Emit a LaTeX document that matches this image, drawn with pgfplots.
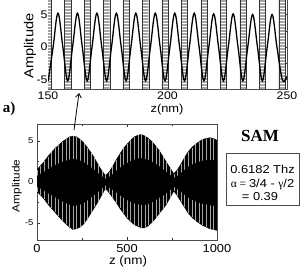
\documentclass[border=0pt]{standalone}
\usepackage{fontspec}
\setmainfont{Liberation Sans}[FakeStretch=1.12]
\newfontfamily\serifb{Liberation Serif}
\usepackage{pgfplots}
\usepackage{pgfplotstable}
\pgfplotsset{compat=1.18}
\usetikzlibrary{patterns,arrows.meta}

\pgfplotstableread{
z a
150.10 -5.2
152.14 0
154.17 5.2
156.21 0
158.24 -5.2
160.28 0
162.32 5.2
164.35 0
166.39 -5.2
168.42 0
170.46 5.2
172.50 0
174.53 -5.2
176.57 0
178.60 5.2
180.64 0
182.68 -5.2
184.71 0
186.75 5.2
188.78 0
190.82 -5.2
192.86 0
194.89 5.2
196.93 0
198.96 -5.2
201.00 0
203.04 5.2
205.07 0
207.11 -5.2
209.14 0
211.18 5.2
213.22 0
215.25 -5.2
217.29 0
219.32 5.1
221.36 0
223.40 -5.2
225.43 0
227.47 5.1
229.50 0
231.54 -5.2
233.58 0
235.61 5.0
237.65 0
239.68 -5.2
241.72 0
243.76 5.0
245.79 0
248.10 -5.1
250.00 -4.5
}\toptab

\pgfplotstableread{
x y
148.80 -8
148.80 9
151.40 9
151.40 -8
156.94 -8
156.94 9
159.54 9
159.54 -8
165.09 -8
165.09 9
167.69 9
167.69 -8
173.23 -8
173.23 9
175.83 9
175.83 -8
181.38 -8
181.38 9
183.98 9
183.98 -8
189.52 -8
189.52 9
192.12 9
192.12 -8
197.66 -8
197.66 9
200.26 9
200.26 -8
205.81 -8
205.81 9
208.41 9
208.41 -8
213.95 -8
213.95 9
216.55 9
216.55 -8
222.10 -8
222.10 9
224.70 9
224.70 -8
230.24 -8
230.24 9
232.84 9
232.84 -8
238.38 -8
238.38 9
240.98 9
240.98 -8
246.53 -8
246.53 9
249.13 9
249.13 -8
}\bandtab

% envelope of the full signal: upper edge left to right, lower edge right to left
\pgfplotstableread{
z y
0 1.5
20 2.0
40 2.5
60 3.1
80 3.6
100 4.1
120 4.5
140 4.9
160 5.2
180 5.5
200 5.6
220 5.5
240 5.2
260 4.8
280 4.2
300 3.6
320 2.9
340 2.1
360 1.4
380 0.8
400 1.2
420 1.9
440 2.7
460 3.4
480 4.1
500 4.6
520 5.1
540 5.5
560 5.7
580 5.8
600 5.6
620 5.3
640 4.9
660 4.4
680 3.8
700 3.1
720 2.4
740 1.7
760 1.0
780 1.5
800 2.2
820 3.0
840 3.7
860 4.2
880 4.6
900 4.9
920 5.2
940 5.3
960 5.4
980 5.3
1000 5.1
1000 -5.9
980 -5.8
960 -5.7
940 -5.5
920 -5.3
900 -5.0
880 -4.7
860 -4.3
840 -3.8
820 -3.1
800 -2.4
780 -1.7
760 -1.1
740 -1.9
720 -2.7
700 -3.3
680 -3.8
660 -4.4
640 -4.9
620 -5.3
600 -5.6
580 -5.6
560 -5.4
540 -5.2
520 -4.8
500 -4.4
480 -3.8
460 -3.2
440 -2.5
420 -1.9
400 -1.3
380 -0.8
360 -1.6
340 -2.4
320 -3.1
300 -3.8
280 -4.5
260 -5.1
240 -5.5
220 -5.7
200 -5.8
180 -5.5
160 -5.1
140 -4.7
120 -4.2
100 -3.7
80 -3.2
60 -2.7
40 -2.1
20 -1.6
0 -1.2
}\envtab

\begin{document}
\begin{tikzpicture}
\useasboundingbox (0pt,0pt) rectangle (300pt,270pt);
\clip (0pt,0pt) rectangle (300pt,270pt);

% ---------- top (zoomed) plot ----------
\begin{axis}[
  at={(48pt,181pt)}, anchor=south west, scale only axis,
  width=239pt, height=91.4pt,
  xmin=150, xmax=250, ymin=-6.46, ymax=7.6,
  xtick={150,200,250}, ytick={-5,0,5}, minor ytick={-2.5,2.5},
  axis line style={gray!60!black, line width=0.4pt},
  tick style={gray!40!black, line width=0.4pt},
  major tick length=3pt, minor tick length=2pt,
  /pgf/number format/assume math mode=true,
  /pgf/number format/1000 sep={},
  ticklabel style={font=\fontsize{11}{11}\selectfont},
  xticklabel style={yshift=1pt},
  yticklabel style={xshift=3pt},
  xlabel={z(nm)}, ylabel={Amplitude},
  xlabel style={at={(axis description cs:0.498,-0.16)}, anchor=north, inner sep=0pt, font=\fontsize{11.5}{12}\selectfont},
  ylabel style={at={(axis description cs:-0.075,0.47)}, anchor=center, font=\fontsize{13}{13}\selectfont},
]
\addplot[fill=gray!70, draw=none] table[x=x,y=y] {\bandtab};
\addplot[pattern=horizontal lines, pattern color=white, draw=none] table[x=x,y=y] {\bandtab};
\addplot[gray!40!black, line width=0.3pt] table[x=x,y=y] {\bandtab};
\addplot[black, line width=1.3pt, smooth, tension=0.6] table[x=z,y=a] {\toptab};
\end{axis}

% ---------- bottom (full) plot ----------
\begin{axis}[
  at={(37pt,29.5pt)}, anchor=south west, scale only axis,
  width=180pt, height=116.5pt,
  xmin=0, xmax=1000, ymin=-7.13, ymax=7.07,
  xtick={0,500,1000}, minor xtick={250,750},
  ytick={-5,0,5}, minor ytick={-2.5,2.5},
  axis line style={gray!60!black, line width=0.4pt},
  tick style={gray!40!black, line width=0.4pt},
  major tick length=3pt, minor tick length=2pt,
  /pgf/number format/assume math mode=true,
  /pgf/number format/1000 sep={},
  xticklabel style={font=\fontsize{11.5}{12}\selectfont},
  yticklabel style={font=\fontsize{8.5}{9}\selectfont},
  xlabel={z (nm)}, ylabel={Amplitude},
  xlabel style={at={(axis description cs:0.506,-0.176)}, anchor=center, font=\fontsize{12}{12}\selectfont},
  ylabel style={at={(axis description cs:-0.111,0.468)}, anchor=center, font=\fontsize{10.5}{11}\selectfont},
]
\addplot[fill=black, draw=black, line width=0.3pt] table[x=z,y=y] {\envtab};
\addplot[ycomb, gray!70, line width=0.4pt] table[x=z,y=y] {\envtab};
\addplot[fill=black, draw=none] table[x=z,y expr=0.5*\thisrow{y}] {\envtab};
\end{axis}

% ---------- annotations ----------
\draw[black, line width=0.8pt, -{Straight Barb[length=4pt,width=6pt]}] (74pt,140pt) -- (79pt,177pt);
\node[font=\serifb\bfseries\fontsize{15}{15}\selectfont] at (9pt,161pt) {a)};
\node[font=\serifb\bfseries\fontsize{17}{17}\selectfont] at (260pt,134pt) {SAM};
\draw[gray!60!black, line width=0.5pt] (226pt,65pt) rectangle (299pt,117pt);
\node[font=\fontsize{11.5}{12}\selectfont] at (262.5pt,101pt) {0.6182 Thz};
\node[font=\fontsize{11.5}{12}\selectfont] at (262.5pt,85pt) {{\serifb α = }3/4 - {\serifb γ}/2};
\node[font=\fontsize{11.5}{12}\selectfont] at (260pt,73pt) {= 0.39};
\end{tikzpicture}
\end{document}
